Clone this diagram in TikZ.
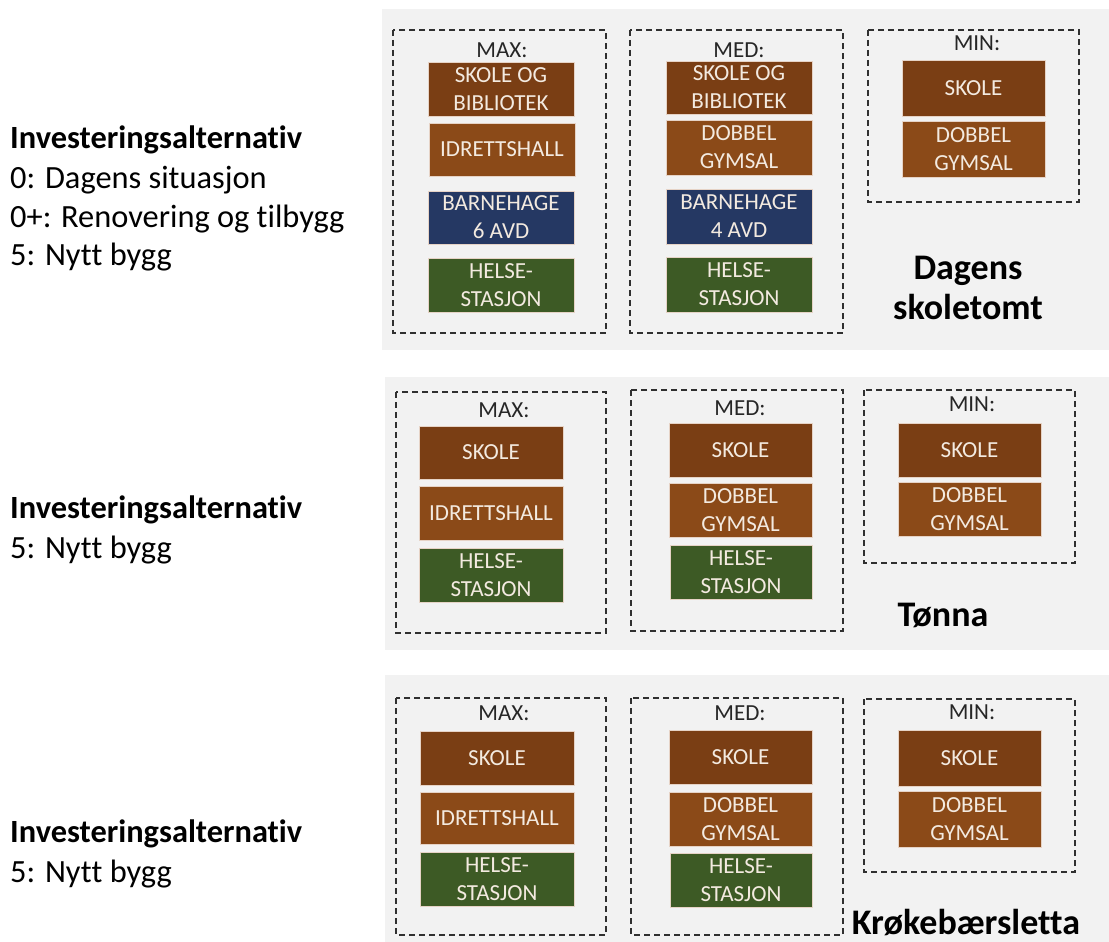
\documentclass[tikz,border=0pt]{standalone}
\usepackage{fontspec}
\setmainfont{Carlito}[Ligatures=NoCommon]
\definecolor{dbr}{HTML}{7A3E14}
\definecolor{lbr}{HTML}{8B4A18}
\definecolor{navy}{HTML}{253863}
\definecolor{grn}{HTML}{3D5A25}
\definecolor{panelgray}{HTML}{F2F2F2}
\definecolor{boxedge}{HTML}{E6D3C6}
\definecolor{boxtext}{HTML}{F3EAE0}
\definecolor{lbl}{HTML}{262626}
\definecolor{dashc}{HTML}{303030}
\newcommand{\boxfont}{\fontsize{23}{28}\selectfont}
\newcommand{\sidefont}{\fontsize{32.4}{39}\selectfont}
\newcommand{\sitefont}{\fontsize{36}{40}\selectfont\bfseries}
\newcommand{\nytt}{Nyt\kern0ptt}
\tikzset{
  panel/.style={fill=panelgray, draw=none},
  dbox/.style={draw=dashc, line width=1.7pt, dash pattern=on 6pt off 4pt},
  bx/.style={fill=#1, draw=boxedge, line width=0.8pt, text=boxtext, font=\boxfont, align=center, inner sep=0pt},
  lab/.style={text=lbl, font=\boxfont, inner sep=0pt},
  site/.style={text=black, font=\sitefont, align=center, inner sep=0pt},
  side/.style={text=black, font=\sidefont, anchor=base west, inner sep=0pt},
}
\begin{document}
\begin{tikzpicture}[x=1pt,y=-1pt]
\useasboundingbox (0,0) rectangle (1109,942);
\fill[white] (0,0) rectangle (1109,942);

% ---------- left texts ----------
\node[side] (t1a) at (10,148) {\bfseries Investeringsalternativ};
\node[side] (t1b) at (10,188) {0: Dagens situasjon};
\node[side] (t1c) at (10,227) {0+: Renovering og tilbygg};
\node[side] (t1d) at (10,265) {5: \nytt{} bygg};
\node[side] (t2a) at (10,518) {\bfseries Investeringsalternativ};
\node[side] (t2b) at (10,558) {5: \nytt{} bygg};
\node[side] (t3a) at (10,842) {\bfseries Investeringsalternativ};
\node[side] (t3b) at (10,882) {5: \nytt{} bygg};

% ---------- panel 1 ----------
\fill[panel] (382,9) rectangle (1109,350);
\draw[dbox] (393,30) rectangle (606,333);
\draw[dbox] (630,30) rectangle (843,333);
\draw[dbox] (868,30) rectangle (1079,202);
\node[lab] (p1max) at (502,50) {MAX:};
\node[lab] (p1med) at (739,50) {MED:};
\node[lab] (p1min) at (977,43) {MIN:};
\node[bx=dbr, minimum width=146pt, minimum height=54pt] (p1a1) at (501,89) {SKOLE OG\\BIBLIOTEK};
\node[bx=lbr, minimum width=146pt, minimum height=53pt] (p1a2) at (502,149.5) {IDRETTSHALL};
\node[bx=navy, minimum width=146pt, minimum height=53pt] (p1a3) at (501,217.5) {BARNEHAGE\\6 AVD};
\node[bx=grn, minimum width=146pt, minimum height=54pt] (p1a4) at (501,285) {HELSE-\\STASJON};
\node[bx=dbr, minimum width=146pt, minimum height=53pt] (p1b1) at (739,87.5) {SKOLE OG\\BIBLIOTEK};
\node[bx=lbr, minimum width=146pt, minimum height=55pt] (p1b2) at (739,147.5) {DOBBEL\\GYMSAL};
\node[bx=navy, minimum width=146pt, minimum height=55pt] (p1b3) at (739,216.5) {BARNEHAGE\\4 AVD};
\node[bx=grn, minimum width=146pt, minimum height=55pt] (p1b4) at (739,284.5) {HELSE-\\STASJON};
\node[bx=dbr, minimum width=143pt, minimum height=56pt] (p1c1) at (973.5,88) {SKOLE};
\node[bx=lbr, minimum width=143pt, minimum height=56pt] (p1c2) at (973.5,149) {DOBBEL\\GYMSAL};
\node[site] (p1site) at (968,288) {Dagens\\skoletomt};

% ---------- panel 2 ----------
\fill[panel] (385,377) rectangle (1109,650);
\draw[dbox] (396,392) rectangle (606,633);
\draw[dbox] (631,390) rectangle (843,631);
\draw[dbox] (864,390) rectangle (1075,563);
\node[lab] (p2max) at (504,410) {MAX:};
\node[lab] (p2med) at (740,408) {MED:};
\node[lab] (p2min) at (972,404) {MIN:};
\node[bx=dbr, minimum width=144pt, minimum height=53pt] (p2a1) at (491,452.5) {SKOLE};
\node[bx=lbr, minimum width=144pt, minimum height=54pt] (p2a2) at (491,513) {IDRETTSHALL};
\node[bx=grn, minimum width=144pt, minimum height=54pt] (p2a3) at (491,575) {HELSE-\\STASJON};
\node[bx=dbr, minimum width=143pt, minimum height=54pt] (p2b1) at (740.5,450) {SKOLE};
\node[bx=lbr, minimum width=143pt, minimum height=54pt] (p2b2) at (740.5,510) {DOBBEL\\GYMSAL};
\node[bx=grn, minimum width=142pt, minimum height=54pt] (p2b3) at (741,572) {HELSE-\\STASJON};
\node[bx=dbr, minimum width=143pt, minimum height=54pt] (p2c1) at (969.5,450) {SKOLE};
\node[bx=lbr, minimum width=143pt, minimum height=54pt] (p2c2) at (969.5,509) {DOBBEL\\GYMSAL};
\node[site] (p2site) at (943,615) {Tønna};

% ---------- panel 3 ----------
\fill[panel] (385,675) rectangle (1109,942);
\draw[dbox] (396,698) rectangle (606,935);
\draw[dbox] (631,698) rectangle (843,935);
\draw[dbox] (864,699) rectangle (1075,872);
\node[lab] (p3max) at (504,713) {MAX:};
\node[lab] (p3med) at (740,713) {MED:};
\node[lab] (p3min) at (972,712) {MIN:};
\node[bx=dbr, minimum width=154pt, minimum height=54pt] (p3a1) at (497,758) {SKOLE};
\node[bx=lbr, minimum width=154pt, minimum height=52pt] (p3a2) at (497,818) {IDRETTSHALL};
\node[bx=grn, minimum width=154pt, minimum height=54pt] (p3a3) at (497,879) {HELSE-\\STASJON};
\node[bx=dbr, minimum width=143pt, minimum height=54pt] (p3b1) at (740.5,757) {SKOLE};
\node[bx=lbr, minimum width=143pt, minimum height=54pt] (p3b2) at (740.5,819) {DOBBEL\\GYMSAL};
\node[bx=grn, minimum width=142pt, minimum height=54pt] (p3b3) at (741,880) {HELSE-\\STASJON};
\node[bx=dbr, minimum width=143pt, minimum height=56pt] (p3c1) at (969.5,758) {SKOLE};
\node[bx=lbr, minimum width=143pt, minimum height=56pt] (p3c2) at (969.5,819) {DOBBEL\\GYMSAL};
\node[site] (p3site) at (966,923) {Krøkebærsletta};
\end{tikzpicture}
\end{document}
